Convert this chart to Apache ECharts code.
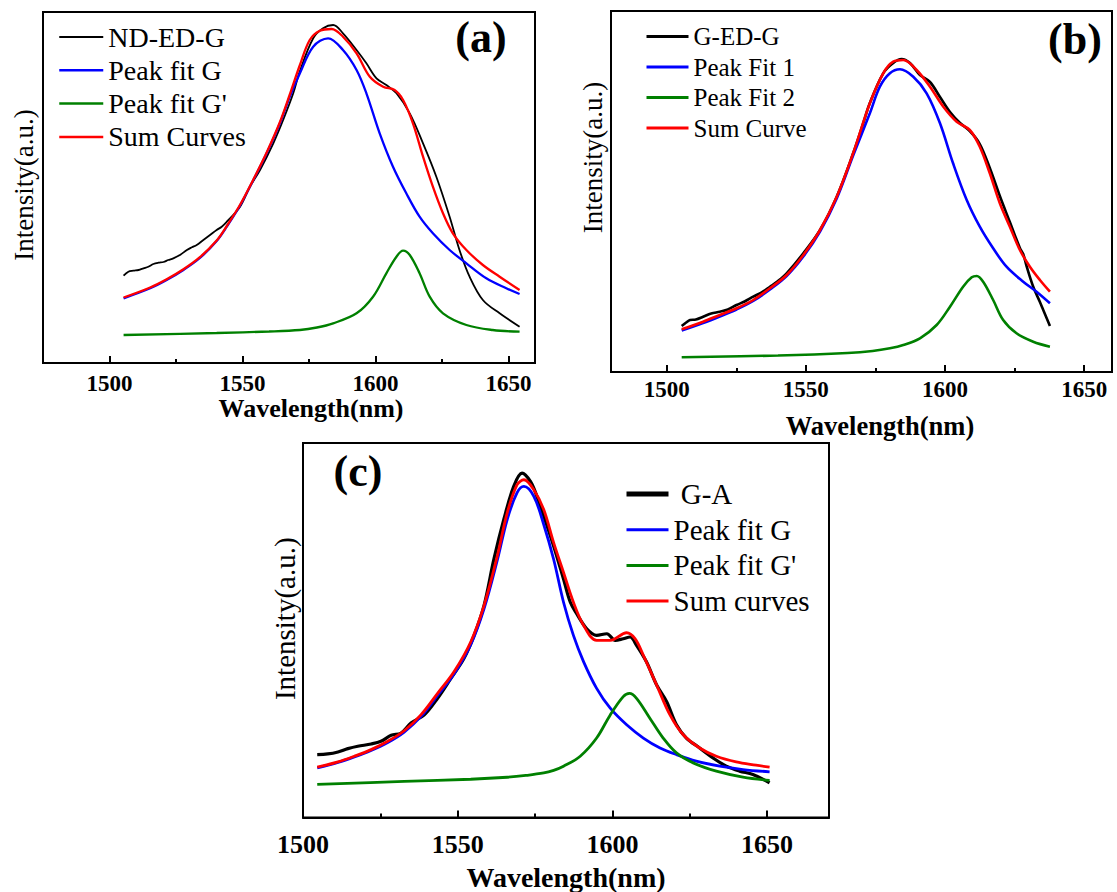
<!DOCTYPE html>
<html>
<head>
<meta charset="utf-8">
<script src="https://cdn.jsdelivr.net/npm/echarts@6.0.0/dist/echarts.min.js"></script>
<style>
  html, body { margin: 0; padding: 0; background: #ffffff; }
  #chart { width: 1117px; height: 892px; font-family: 'Liberation Serif', serif; }
</style>
</head>
<body>
<div id="chart"></div>
<script>
// Wavelength tick marks shared by all three panels
const majorTicks = [1500, 1550, 1600, 1650];
const minorTicks = [1525, 1575, 1625];

// ---- Panel (a): ND-ED-G spectrum and its two-peak fit  [wavelength nm, intensity a.u.]
const aNames = ['ND-ED-G', 'Peak fit G', "Peak fit G'", 'Sum Curves'];
const aRaw = [[1505.3,87.3],[1507.1,91.3],[1509.0,92.3],[1510.9,93],[1512.8,94.7],[1514.6,96.3],[1516.5,99],[1518.4,100.3],[1520.3,101],[1522.1,103],[1524.0,104.7],[1526.5,108],[1529.1,113],[1531.0,115.7],[1532.8,118],[1535.3,123],[1537.8,128],[1540.3,133],[1542.2,136.3],[1544.1,141.3],[1549.1,156.3],[1552.8,176.3],[1556.6,193],[1561.6,219.7],[1565.3,243],[1569.1,269.7],[1571.6,292],[1576.6,324.7],[1580.3,334.7],[1584.1,338],[1587.8,329.7],[1592.9,313],[1596.6,299.7],[1600.4,284.7],[1604.1,278],[1607.9,269.7],[1612.9,249.7],[1617.9,219.7],[1622.9,186.3],[1627.9,146.3],[1631.6,113],[1635.4,86.3],[1640.4,63],[1646.7,49.7],[1654.2,36.3]];
const aFitG = [[1505.3,64.7],[1515.3,74.7],[1521.5,83],[1527.8,93],[1534.0,105],[1540.3,122],[1544.1,136.3],[1549.1,157.5],[1554.1,183],[1559.1,209.7],[1564.1,239.7],[1567.8,266.3],[1571.6,289.7],[1576.6,316.3],[1582.2,324.7],[1587.8,313],[1592.9,293],[1596.6,269.7],[1601.6,229.7],[1606.6,196.3],[1611.6,169.7],[1616.6,146.3],[1621.6,129.7],[1627.9,113],[1634.2,99.7],[1641.7,84.7],[1649.2,74.7],[1654.2,69]];
const aFitG2 = [[1505.3,28],[1540.3,30],[1560.0,31.5],[1571.6,33],[1578.0,35.5],[1584.1,39.7],[1592.9,49.7],[1599.1,66.3],[1604.1,89.7],[1607.9,106.3],[1610.4,112.3],[1612.9,108],[1616.6,89.7],[1620.4,66.3],[1625.4,49.7],[1634.2,38],[1644.1,33],[1654.2,31.3]];
const aSum = [[1505.3,65.5],[1515.3,75.5],[1521.5,83.7],[1527.8,93.7],[1534.0,105.8],[1540.3,122.5],[1544.1,137],[1549.1,158.2],[1554.1,183.5],[1559.1,210.5],[1564.1,241],[1567.8,268.5],[1571.6,298],[1575.3,323],[1579.1,332.3],[1583.5,334],[1587.8,326.3],[1592.9,309.7],[1597.9,286.3],[1602.9,276.3],[1607.2,273],[1610.4,263],[1614.1,239.7],[1617.9,206.3],[1621.6,176.3],[1625.4,149.7],[1629.1,129.7],[1634.2,113],[1640.4,98],[1646.7,86.3],[1654.2,73]];

// ---- Panel (b): G-ED-G spectrum and its two-peak fit
const bNames = ['G-ED-G', 'Peak Fit 1', 'Peak Fit 2', 'Sum Curve'];
const bRaw = [[1505.4,46],[1507.0,49.5],[1508.4,52],[1510.5,52.5],[1513.1,55.3],[1516.0,58.5],[1519.1,60.3],[1522.0,62.5],[1525.1,67],[1528.0,70.5],[1531.1,75.3],[1534.0,79.5],[1537.1,85.3],[1540.0,91],[1543.1,98.7],[1549.1,118.7],[1555.1,142],[1561.1,175.3],[1567.0,218.7],[1570.6,248.7],[1573.0,269],[1577.8,298.7],[1581.4,309],[1584.4,313],[1587.4,309],[1591.0,297],[1594.6,290],[1598.2,275],[1601.8,260],[1605.4,249],[1608.9,241],[1612.5,228],[1616.1,204],[1619.7,176],[1623.3,150],[1626.9,124],[1628.1,118],[1629.3,106],[1631.7,85.3],[1634.1,70],[1635.3,62],[1637.7,46]];
const bFit1 = [[1505.4,41.5],[1513.1,49],[1519.1,55.5],[1525.1,62.5],[1531.1,71],[1537.1,82.5],[1543.1,96],[1549.1,115.5],[1555.1,140.5],[1561.1,173.5],[1567.0,216.5],[1573.0,258.7],[1576.6,285.3],[1580.2,298.7],[1583.8,302.7],[1588.6,295.3],[1593.4,278.7],[1598.2,248.7],[1602.9,208.7],[1607.8,172],[1612.5,145.3],[1617.3,123.7],[1622.1,105.3],[1628.1,90.3],[1632.9,80.3],[1637.7,68.7]];
const bFit2 = [[1505.4,14.7],[1540.0,16.5],[1565.0,19],[1574.0,21],[1580.2,23.7],[1585.0,27],[1591.0,33.7],[1597.0,47],[1601.8,65.3],[1606.5,85.3],[1609.6,94.7],[1611.4,96],[1613.7,90.3],[1617.3,72],[1620.9,52],[1625.7,38.7],[1631.7,30.3],[1637.7,25.3]];
const bSum = [[1505.4,42.7],[1513.1,50.3],[1519.1,57],[1525.1,63.7],[1531.1,72],[1537.1,83.7],[1543.1,97],[1549.1,117],[1555.1,142],[1561.1,175.3],[1567.0,218.7],[1573.0,268.7],[1577.8,298.7],[1581.4,310.3],[1585.0,312],[1589.8,302],[1594.6,285.3],[1599.4,265.3],[1604.2,250.3],[1608.9,242],[1612.5,225.3],[1616.1,198.7],[1619.7,168.7],[1623.3,145.3],[1626.9,122],[1630.5,105.3],[1634.1,92],[1637.7,80.3]];

// ---- Panel (c): G-A spectrum and its two-peak fit
const cNames = [' G-A', 'Peak fit G', "Peak fit G'", 'Sum curves'];
const cRaw = [[1504.6,63.3],[1508.0,64],[1511.3,66],[1514.5,69.3],[1517.7,71.7],[1522.0,74],[1525.2,76.7],[1528.5,82.7],[1531.7,85],[1534.9,95],[1539.2,103.3],[1543.5,120],[1547.8,140],[1552.0,160],[1555.3,183.3],[1558.5,213.3],[1561.7,260],[1564.9,300],[1568.1,333.3],[1570.8,346.7],[1573.5,338.3],[1575.6,323.3],[1577.8,303.3],[1581.0,273.3],[1584.2,240],[1586.4,216.7],[1588.5,205],[1591.7,190],[1594.9,183.3],[1598.2,185],[1600.9,178.3],[1603.5,180],[1605.7,181.7],[1607.8,173.3],[1611.0,156.7],[1614.3,133.3],[1617.5,116.7],[1620.7,93.3],[1623.9,80],[1628.2,70],[1632.5,60],[1636.8,51.7],[1641.1,46.7],[1645.4,43.3],[1650.8,35]];
const cFitG = [[1504.6,50],[1511.3,55.5],[1516.6,61],[1522.0,67.5],[1527.4,75.5],[1532.7,86],[1538.1,101.5],[1543.5,123],[1548.8,144.5],[1554.2,174],[1558.5,210],[1562.8,259],[1566.0,300],[1569.2,327],[1571.4,333.3],[1574.6,323.3],[1577.8,295],[1581.0,260],[1584.2,216.7],[1587.4,183.3],[1590.7,156.7],[1594.9,130],[1599.3,110],[1604.6,93.3],[1610.0,80],[1615.4,70],[1620.7,63.3],[1627.1,56.7],[1634.7,51.7],[1642.2,48.3],[1650.8,46]];
const cFitG2 = [[1504.6,33.3],[1532.7,36.3],[1554.2,38.5],[1566.0,40.5],[1572.0,42.3],[1577.8,44.8],[1581.0,47.5],[1584.2,51.7],[1589.6,61.7],[1594.9,80],[1599.3,103.3],[1603.5,121.7],[1605.5,125],[1607.8,120],[1612.1,100],[1616.4,80],[1620.7,65],[1626.1,55],[1633.6,46.7],[1642.2,40.7],[1650.8,37.3]];
const cSum = [[1504.6,50.7],[1511.3,56],[1516.6,61.7],[1522.0,68.3],[1527.4,76.7],[1532.7,87.3],[1538.1,103.3],[1543.5,125],[1548.8,146.7],[1554.2,176.7],[1558.5,213.3],[1562.8,263.3],[1566.0,306.7],[1569.2,335],[1571.4,340],[1574.6,330],[1577.8,310],[1581.0,276.7],[1584.2,246.7],[1587.4,216.7],[1590.7,193.3],[1594.9,178.3],[1599.3,178.3],[1604.6,186],[1607.3,180],[1610.0,163.3],[1614.3,133.3],[1618.6,103.3],[1622.9,83.3],[1628.2,70],[1633.6,61.7],[1640.0,56],[1646.4,52.7],[1650.8,50.7]];

const SERIF = 'Liberation Serif';
const COLORS = ['#000000', '#0000ff', '#008000', '#ff0000'];

// Per-panel layout and styling
const panels = [
  {
    grid: { left: 43, top: 12, width: 492, height: 351 },
    xMin: 1475, xMax: 1660, yMax: 351,
    names: aNames, data: [aRaw, aFitG, aFitG2, aSum],
    widths: [1.8, 2.3, 2.3, 2.3],
    tickFont: 23, tickMargin: 8.5,
    xName: { size: 26, gap: 31, shift: 44 }, yName: { size: 27, gap: 5.5, shift: 5 },
    legend: { left: 58, top: 23, itemWidth: 44, fontSize: 28, itemGap: 5.3, widths: [2, 2.5, 2.5, 2.5] },
    tag: { text: '(a)', x: 481, y: 37.5 }
  },
  {
    grid: { left: 611, top: 11, width: 501, height: 361 },
    xMin: 1480, xMax: 1660, yMax: 361,
    names: bNames, data: [bRaw, bFit1, bFit2, bSum],
    widths: [2.6, 2.6, 2.6, 2.6],
    tickFont: 23, tickMargin: 5.5,
    xName: { size: 26.5, gap: 40, shift: 37 }, yName: { size: 27, gap: 4.5, shift: 68 },
    legend: { left: 645, top: 24, itemWidth: 42, fontSize: 25, itemGap: 5.5, widths: [3, 3, 3, 3] },
    tag: { text: '(b)', x: 1075, y: 39.5 }
  },
  {
    grid: { left: 303, top: 443, width: 526, height: 377 },
    xMin: 1500, xMax: 1670, yMax: 377,
    names: cNames, data: [cRaw, cFitG, cFitG2, cSum],
    widths: [3.2, 2.8, 2.8, 2.8],
    tickFont: 26, tickMargin: 14,
    xName: { size: 28, gap: 45.5, shift: 0 }, yName: { size: 29, gap: 3.5, shift: 23 },
    legend: { left: 624, top: 479.5, itemWidth: 42, fontSize: 29, itemGap: 6.7, widths: [5, 3, 3, 3] },
    tag: { text: '(c)', x: 358, y: 471 }
  }
];

const grids = [], xAxes = [], yAxes = [], series = [], legends = [], graphics = [];

panels.forEach((p, i) => {
  grids.push(Object.assign({ show: true, borderColor: '#000', borderWidth: 2, backgroundColor: 'transparent' }, p.grid));

  // main wavelength axis with long inward ticks and labels
  xAxes.push({
    type: 'value', gridIndex: i, min: p.xMin, max: p.xMax, position: 'bottom',
    axisLine: { show: true, onZero: false, lineStyle: { color: '#000', width: 2 } },
    axisTick: { show: true, inside: true, length: 7, customValues: majorTicks, lineStyle: { color: '#000', width: 2 } },
    axisLabel: { show: true, customValues: majorTicks, margin: p.tickMargin, color: '#000',
      fontFamily: SERIF, fontWeight: 700, fontSize: p.tickFont,
      formatter: (v) => String(v) },
    splitLine: { show: false },
    name: 'Wavelength(nm)', nameLocation: 'middle', nameGap: p.xName.gap,
    nameTextStyle: { color: '#000', fontFamily: SERIF, fontWeight: 700, fontSize: p.xName.size,
      padding: [0, 0, 0, p.xName.shift] }
  });
  yAxes.push({
    type: 'value', gridIndex: i, min: 0, max: p.yMax,
    axisLine: { show: false }, axisTick: { show: false }, axisLabel: { show: false }, splitLine: { show: false },
    name: 'Intensity(a.u.)', nameLocation: 'middle', nameRotate: 90, nameGap: p.yName.gap,
    nameTextStyle: { color: '#000', fontFamily: SERIF, fontWeight: 'normal', fontSize: p.yName.size,
      padding: [0, 0, 0, p.yName.shift] }
  });

  p.names.forEach((name, k) => {
    series.push({
      type: 'line', name: name, xAxisIndex: i, yAxisIndex: i,
      data: p.data[k], symbol: 'none', showSymbol: false, smooth: 0.35,
      lineStyle: { color: COLORS[k], width: p.widths[k] },
      itemStyle: { color: COLORS[k] },
      emphasis: { disabled: true }, silent: true
    });
  });

  // legend rows: a plain line sample followed by the series name
  legends.push({
    orient: 'vertical', left: p.legend.left, top: p.legend.top,
    itemWidth: p.legend.itemWidth, itemHeight: 2, itemGap: p.legend.itemGap,
    selectedMode: false, padding: 0,
    textStyle: { color: '#000', fontFamily: SERIF, fontSize: p.legend.fontSize },
    data: p.names.map((name, k) => ({
      name: name,
      itemStyle: { opacity: 0 },
      lineStyle: { color: COLORS[k], width: p.legend.widths[k] }
    }))
  });

  graphics.push({
    type: 'text', x: p.tag.x, y: p.tag.y, silent: true,
    style: { text: p.tag.text, fill: '#000', fontFamily: SERIF, fontWeight: 'bold', fontSize: 44,
      align: 'center', verticalAlign: 'middle' }
  });
});

// short inward minor ticks between the labelled wavelengths
panels.forEach((p, i) => {
  xAxes.push({
    type: 'value', gridIndex: i, min: p.xMin, max: p.xMax, position: 'bottom',
    axisLine: { show: false },
    axisTick: { show: true, inside: true, length: 4, customValues: minorTicks, lineStyle: { color: '#000', width: 2 } },
    axisLabel: { show: false }, splitLine: { show: false }
  });
});

const chart = echarts.init(document.getElementById('chart'), null, { renderer: 'svg' });
chart.setOption({
  animation: false,
  backgroundColor: '#ffffff',
  textStyle: { fontFamily: SERIF },
  grid: grids,
  xAxis: xAxes,
  yAxis: yAxes,
  legend: legends,
  series: series,
  graphic: graphics
});
</script>
</body>
</html>
